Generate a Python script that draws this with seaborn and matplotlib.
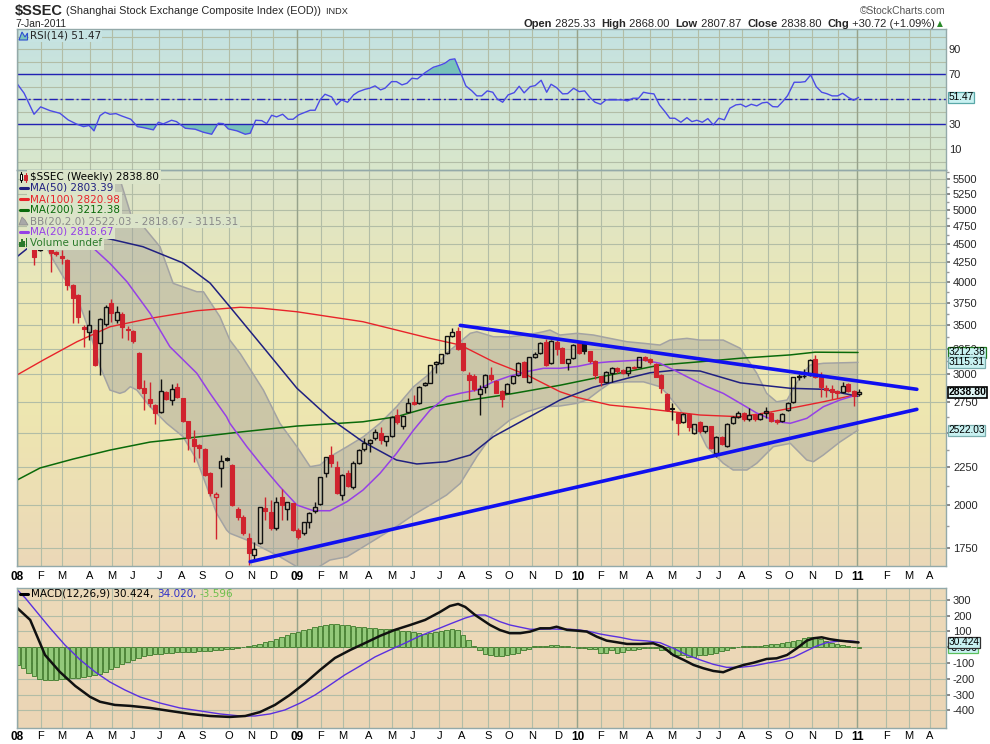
import numpy as np
import matplotlib
matplotlib.use("Agg")
import matplotlib.pyplot as plt
import seaborn as sns
from matplotlib.colors import LinearSegmentedColormap
from matplotlib.lines import Line2D
from matplotlib.patches import Rectangle, Polygon
from matplotlib.ticker import FixedLocator, NullFormatter

# ---------------- weekly candles (bar number, OHLC) ----------------
bar_index = list(range(4, 155))
opens = [4461, 4421, 4540, 4497, 4390, 4340, 4280, 3960, 3840, 3480,
         3419, 3440, 3304, 3509, 3742, 3553, 3620, 3460, 3431, 3209,
         2874, 2777, 2728, 2672, 2841, 2771, 2882, 2786, 2598, 2455,
         2410, 2378, 2210, 2048, 2241, 2312, 2265, 1973, 1925, 1804,
         1712, 1779, 1980, 1959, 1860, 2052, 1973, 2010, 1851, 1834,
         1895, 1965, 2006, 2207, 2336, 2253, 2063, 2211, 2117, 2281,
         2378, 2423, 2465, 2500, 2443, 2480, 2645, 2556, 2667, 2755,
         2743, 2901, 2926, 3099, 3105, 3204, 3380, 3431, 3304, 2995,
         2985, 2821, 2882, 2995, 2942, 2852, 2835, 2923, 2995, 3121,
         2932, 3164, 3209, 3321, 3111, 3321, 3260, 3105, 3154, 3304,
         3304, 3222, 3130, 2985, 2932, 3016, 3058, 3042, 3016, 3075,
         3075, 3170, 3150, 3099, 2995, 2821, 2705, 2664, 2591, 2655,
         2505, 2591, 2515, 2556, 2353, 2472, 2400, 2578, 2631, 2660,
         2610, 2645, 2615, 2665, 2664, 2604, 2598, 2686, 2751, 2975,
         2985, 2995, 3145, 2974, 2874, 2870, 2852, 2841, 2912, 2852,
         2825.33]
highs = [4480, 4600, 4580, 4510, 4400, 4415, 4290, 3970, 3850, 3500,
         3664, 3460, 3570, 3720, 3788, 3715, 3640, 3490, 3440, 3215,
         2948, 2932, 2740, 2955, 2850, 2912, 2923, 2790, 2600, 2524,
         2420, 2385, 2215, 2080, 2336, 2320, 2270, 1990, 1940, 1832,
         1784, 1990, 2052, 2031, 2050, 2102, 2020, 2015, 1860, 1900,
         1955, 2020, 2185, 2325, 2402, 2290, 2200, 2230, 2290, 2380,
         2460, 2455, 2530, 2550, 2480, 2640, 2692, 2645, 2791, 2815,
         2890, 2935, 3090, 3130, 3200, 3385, 3462, 3478, 3310, 3026,
         3000, 2901, 3000, 3067, 2950, 2860, 2920, 2990, 3120, 3125,
         3170, 3215, 3320, 3350, 3340, 3335, 3270, 3150, 3295, 3320,
         3330, 3230, 3140, 2990, 3030, 3075, 3070, 3050, 3075, 3080,
         3170, 3181, 3160, 3105, 3000, 2830, 2743, 2670, 2660, 2665,
         2575, 2600, 2560, 2560, 2475, 2480, 2580, 2640, 2680, 2670,
         2700, 2650, 2660, 2710, 2670, 2610, 2660, 2750, 2980, 3000,
         3050, 3145, 3186, 3026, 2900, 2900, 2860, 2930, 2920, 2860,
         2868.00]
lows = [4214, 4400, 4450, 4127, 4330, 4230, 3900, 3516, 3516, 3270,
        3338, 3080, 2995, 3490, 3534, 3516, 3356, 3338, 3311, 2870,
        2686, 2714, 2572, 2660, 2770, 2728, 2790, 2590, 2372, 2288,
        2314, 2190, 2060, 1798, 2117, 2290, 1995, 1910, 1820, 1660,
        1686, 1770, 1909, 1851, 1851, 1909, 1909, 1845, 1800, 1820,
        1860, 1949, 2000, 2180, 2250, 2070, 2031, 2115, 2100, 2270,
        2368, 2360, 2450, 2420, 2400, 2470, 2572, 2534, 2660, 2728,
        2735, 2890, 2920, 3015, 3100, 3195, 3370, 3240, 3030, 2771,
        2850, 2645, 2830, 2940, 2830, 2710, 2830, 2915, 2990, 2975,
        2925, 3160, 3200, 3080, 3100, 3190, 3105, 3042, 3150, 3200,
        3200, 3110, 2960, 2890, 2925, 2935, 3010, 3000, 2985, 3050,
        3070, 3130, 3100, 2975, 2829, 2680, 2604, 2486, 2580, 2520,
        2490, 2500, 2505, 2380, 2320, 2410, 2395, 2570, 2620, 2600,
        2600, 2600, 2605, 2620, 2590, 2575, 2590, 2680, 2745, 2950,
        2965, 2990, 2970, 2800, 2800, 2780, 2790, 2835, 2840, 2719,
        2807.87]
closes = [4324, 4560, 4497, 4370, 4355, 4305, 3960, 3800, 3582, 3452,
          3498, 3089, 3560, 3696, 3627, 3640, 3473, 3440, 3328, 2874,
          2829, 2748, 2664, 2852, 2777, 2865, 2800, 2598, 2460, 2405,
          2390, 2195, 2074, 2068, 2291, 2300, 2000, 1925, 1832, 1721,
          1743, 1986, 1965, 1860, 2021, 2000, 2017, 1851, 1813, 1899,
          1949, 1986, 2180, 2319, 2276, 2074, 2195, 2122, 2281, 2372,
          2423, 2447, 2507, 2450, 2475, 2631, 2591, 2637, 2748, 2737,
          2882, 2923, 3086, 3121, 3196, 3380, 3419, 3244, 3042, 2948,
          2865, 2865, 2995, 2955, 2835, 2777, 2912, 2985, 3111, 2980,
          3164, 3196, 3311, 3089, 3328, 3247, 3111, 3143, 3287, 3204,
          3222, 3130, 2995, 2932, 3024, 3058, 3030, 3010, 3067, 3060,
          3164, 3138, 3121, 2980, 2874, 2686, 2697, 2582, 2655, 2550,
          2570, 2515, 2556, 2385, 2468, 2418, 2572, 2631, 2660, 2610,
          2645, 2615, 2650, 2680, 2598, 2590, 2655, 2743, 2974, 2985,
          2990, 3138, 2979, 2882, 2858, 2841, 2835, 2891, 2852, 2808,
          2838.80]

# ---------------- overlays (bar position, value) ----------------
ma50_x = [0.9, 5.1, 14.7, 23.8, 31.1, 36.0, 39.6, 45.6, 51.8, 57.8, 63.8, 69.9, 73.6, 79.0,
          83.3, 87.5, 93.6, 99.6, 105.6, 111.8, 116.0, 120.9, 125.1, 132.4, 141.5, 147.5, 153.8]
ma50_v = [4324, 4579, 4626, 4461, 4241, 3985, 3702, 3270, 2874, 2618, 2434, 2300, 2272, 2288,
          2336, 2473, 2618, 2771, 2882, 2964, 3016, 3042, 3032, 2923, 2874, 2865, 2803]
ma100_x = [0.9, 5.7, 11.8, 17.8, 25.1, 33.6, 41.5, 45.6, 51.8, 57.8, 63.8, 69.9, 76.0, 81.5,
           87.5, 93.6, 99.6, 102.7, 108.7, 114.7, 125.1, 132.4, 137.2, 141.5, 147.5, 153.8]
ma100_v = [2995, 3138, 3321, 3479, 3571, 3657, 3696, 3684, 3645, 3589, 3534, 3444, 3356, 3287,
           3121, 2995, 2844, 2794, 2728, 2701, 2645, 2631, 2664, 2701, 2756, 2821]
ma200_x = [0.9, 5.1, 11.1, 17.8, 25.1, 33.6, 41.5, 51.8, 63.8, 69.9, 76.0, 83.3, 90.5, 99.6,
           108.7, 117.8, 125.1, 132.4, 141.5, 146.0, 153.8]
ma200_v = [2161, 2244, 2307, 2372, 2432, 2470, 2509, 2556, 2590, 2631, 2711, 2771, 2823, 2901,
           2995, 3089, 3121, 3155, 3188, 3215, 3212]
ma20_x = [14.5, 17.8, 20.9, 25.1, 28.7, 33.6, 36.0, 39.0, 39.6, 42.7, 45.6, 48.7, 51.8, 54.8,
          57.8, 60.9, 63.8, 66.9, 69.9, 73.0, 76.0, 79.0, 81.5, 84.5, 87.5, 90.5, 93.6, 96.6,
          99.6, 102.7, 105.6, 108.7, 111.8, 114.7, 117.8, 120.9, 123.3, 126.3, 129.3, 132.4,
          135.4, 139.0, 141.5, 144.5, 147.5, 150.5, 153.8]
ma20_v = [4461, 4236, 4001, 3627, 3270, 3011, 2829, 2631, 2578, 2397, 2253, 2117, 2000, 1965,
          1965, 2021, 2095, 2207, 2348, 2524, 2686, 2800, 2830, 2858, 2932, 2985, 3027, 3058,
          3058, 3075, 3106, 3121, 3130, 3138, 3106, 3027, 2964, 2890, 2829, 2743,
          2661, 2591, 2578, 2618, 2714, 2771, 2819]
bb_up_x = [14.5, 19.3, 21.8, 23.9, 26.9, 29.3, 33.6, 34.8, 37.8, 39.6, 41.5, 45.7, 48.7, 51.8,
           54.2, 56.0, 57.8, 60.9, 63.9, 66.9, 69.9, 73.0, 76.0, 79.0, 83.3, 84.5, 87.5, 90.5,
           93.6, 96.6, 97.8, 99.6, 102.7, 105.7, 108.7, 111.8, 114.8, 117.8, 119.6, 122.7,
           125.1, 129.3, 132.4, 135.4, 137.2, 139.0, 140.9, 143.3, 145.1, 147.5, 153.8]
bb_up_v = [6000, 5600, 4877, 4747, 4461, 3981, 3879, 3879, 3589, 3338, 3200, 2858, 2578, 2397,
           2253, 2265, 2324, 2397, 2473, 2578, 2714, 2888, 3011, 3204, 3409, 3426, 3373, 3373,
           3391, 3426, 3444, 3391, 3409, 3391, 3356, 3321, 3305, 3287, 3338, 3356,
           3338, 3338, 3254, 3011, 2829, 2756, 2771, 2979, 3089, 3106, 3115]
bb_lo_x = [5.1, 7.5, 9.3, 11.8, 14.2, 16.0, 17.8, 19.6, 20.5, 21.5, 22.7, 25.1, 28.1, 31.1,
           33.6, 35.4, 37.2, 39.0, 39.6, 42.7, 45.7, 48.7, 51.8, 54.8, 57.8, 60.9, 63.9, 66.9,
           69.9, 73.0, 76.0, 79.0, 81.5, 84.5, 87.5, 90.5, 93.6, 96.6, 99.6, 102.7, 104.5,
           105.7, 106.9, 108.7, 111.8, 114.8, 117.8, 119.0, 121.5, 123.3, 125.1, 126.3, 129.3,
           131.1, 133.6, 135.4, 138.4, 141.5, 144.5, 145.7, 147.5, 150.5, 153.8]
bb_lo_v = [4626, 4280, 4064, 3819, 3409, 3075, 2858, 2829, 2844, 2888, 2858, 2714, 2578, 2473,
           2300, 2117, 1949, 1851, 1832, 1794, 1748, 1703, 1651, 1634, 1686, 1703, 1757, 1813,
           1871, 1940, 2000, 2063, 2139, 2324, 2499, 2604, 2672, 2714, 2720, 2743, 2771,
           2814, 2858, 2919, 2932, 2932, 2888, 2829, 2686, 2551, 2499, 2397, 2277,
           2230, 2230, 2277, 2397, 2422, 2300, 2288, 2336, 2432, 2524]
upper_trend_x = [81.5, 164.5]
upper_trend_v = [3494, 2865]
lower_trend_x = [43.3, 164.5]
lower_trend_v = [1677, 2692]

# ---------------- RSI(14) ----------------
rsi_x = [1.0, 2.2, 4.0, 5.2, 6.9, 8.7, 10.2, 11.8, 13.0, 14.0, 14.9, 16.0, 16.9, 17.8, 18.9, 19.9,
         21.6, 22.8, 23.9, 25.7, 26.6, 27.5, 29.0, 29.9, 31.5, 33.3, 34.8, 36.3, 37.5, 38.4, 39.3,
         40.9, 42.4, 43.3, 44.3, 45.4, 46.3, 47.2, 48.1, 49.2, 50.2, 51.1, 52.1, 53.3, 54.2, 55.1,
         56.0, 56.9, 58.1, 59.0, 59.9, 61.0, 62.1, 63.0, 64.2, 65.0, 66.0, 67.0, 67.8, 69.0, 69.9,
         70.9, 71.8, 72.7, 73.7, 75.1, 76.6, 77.8, 78.7, 79.6, 80.5, 81.6, 82.5, 83.6, 84.5, 85.4,
         86.4, 87.4, 88.2, 89.2, 90.2, 91.3, 92.2, 93.1, 94.2, 95.1, 96.2, 97.2, 98.0, 99.0, 100.1,
         101.0, 102.1, 103.1, 104.1, 105.1, 106.0, 107.0, 108.0, 109.0, 110.1, 111.0, 111.9, 112.9,
         113.9, 114.8, 115.7, 116.7, 117.7, 118.7, 119.6, 120.5, 121.6, 122.7, 123.6, 124.5, 125.5,
         126.5, 127.5, 128.5, 129.5, 130.5, 131.6, 132.5, 133.4, 134.4, 135.4, 136.4, 137.3, 138.3,
         139.2, 140.1, 141.0, 142.2, 143.3, 144.2, 145.2, 146.2, 147.2, 148.1, 149.1, 150.1, 151.0,
         152.1, 153.0, 153.9]
rsi_v = [62, 54.8, 38, 43.9, 40.9, 38.8, 33.5, 30, 28.1, 29, 24.7, 36.9, 39.6, 38, 38.5, 36.7,
         34, 28.1, 27.3, 25.5, 31.6, 30.3, 33.2, 32.1, 26.8, 26, 23.6, 22, 30.8, 30.5, 26.3,
         24.7, 22, 22.8, 33.2, 32.9, 30.5, 37.2, 35.9, 38, 34, 34, 37.5, 39.6, 41.2, 41.2,
         49.5, 54, 51.9, 45.5, 49.5, 47.6, 53.5, 56.1, 58, 58.8, 60.7, 57.5, 58.8, 64.1, 64.1,
         61.5, 62.8, 66.8, 66.3, 71.3, 75.6, 77.2, 78.8, 81.7, 82.3, 70.8, 60.7, 56.7, 52.7, 52.7,
         56.7, 55.6, 50.3, 47.6, 53.5, 55.3, 60.4, 55.1, 60.1, 60.9, 65.2, 55.6, 62, 59.3, 54.3,
         54.5, 58.8, 56.1, 56.7, 51.3, 47.6, 46, 49.5, 49.5, 49.5, 49.5, 48.7, 50.8,
         50.8, 55.6, 54.8, 54.3, 45.5, 40.1, 34.8, 34.8, 31.6, 35.3, 32.1, 33.2, 31.6, 34.5,
         29.5, 34.8, 33.5, 42.8, 45.5, 46, 43.9, 46, 44.7, 47.1, 47.6, 44.1, 43.9,
         48.1, 52.9, 63.6, 63.6, 64.1, 69.5, 60.1, 55.6, 54.5, 52.7, 52.7, 54.8,
         51.3, 49.2, 51.47]

# ---------------- MACD(12,26,9) ----------------
macd_x = [0.9, 3.3, 6.0, 8.7, 11.5, 14.2, 16.0, 18.7, 21.5, 25.1, 28.7, 32.4, 36.0, 39.6, 42.4,
          45.1, 47.8, 50.5, 53.3, 56.0, 58.7, 61.5, 64.2, 66.9, 69.6, 72.4, 75.1, 77.8, 79.6, 81.1,
          82.4, 84.2, 86.9, 88.7, 90.5, 92.4, 94.2, 96.0, 97.8, 99.0, 100.9, 102.7, 104.5, 106.3,
          108.1, 109.9, 111.8, 114.2, 116.6, 118.4, 120.2, 122.1, 123.9, 125.7, 127.5, 129.3,
          131.1, 133.0, 134.8, 137.2, 139.0, 140.9, 142.7, 144.5, 145.7, 147.2, 148.7, 150.5,
          152.4, 153.9]
macd_v = [250, 173, -49, -156, -245, -314, -345, -365, -371, -384, -403, -422, -435, -441, -435,
          -410, -365, -302, -226, -144, -68, -17, 27, 72, 110, 141, 173, 223, 261, 274,
          255, 204, 141, 109, 89, 89, 99, 120, 120, 130, 110, 105, 99, 67,
          42, 32, 21, 21, 25, 0, -49, -80, -112, -133, -150, -158,
          -133, -112, -98, -74, -70, -49, -6, 42, 57, 63, 51, 42, 35, 30.424]
signal_x = [0.9, 2.4, 4.2, 6.9, 9.6, 12.4, 15.1, 17.8, 20.5, 23.3, 26.9, 30.5, 34.2, 37.8, 41.5,
            44.2, 46.9, 49.6, 52.4, 55.1, 57.8, 60.5, 63.3, 66.0, 68.7, 71.5, 74.2, 76.9, 79.6,
            82.4, 84.2, 86.0, 88.7, 90.5, 92.4, 94.2, 96.0, 97.8, 99.6, 101.5, 103.3, 105.1,
            106.9, 108.7, 110.5, 112.9, 115.4, 117.8, 120.2, 122.7, 125.1, 127.5, 129.9, 132.4,
            134.8, 137.2, 139.6, 142.1, 144.5, 146.3, 148.1, 150.5, 152.4, 153.9]
signal_v = [365, 312, 236, 122, 15, -80, -156, -220, -270, -315, -353, -384, -403, -422, -435,
            -435, -422, -397, -353, -302, -239, -175, -118, -61, -17, 27, 72, 109, 147,
            185, 204, 204, 162, 141, 127, 114, 114, 116, 114, 114, 109, 99,
            84, 73, 63, 46, 40, 29, -6, -49, -80, -108, -127, -127,
            -118, -101, -85, -63, -22, 8, 29, 40, 40, 34.020]
hist_x = list(range(1, 155))
hist_v = [-110, -130, -160, -185, -200, -209, -210, -207, -203, -200,
          -196, -192, -188, -184, -176, -168, -155, -140, -125, -108,
          -92, -80, -68, -58, -51, -45, -40, -36, -34, -32,
          -30, -29, -27, -25, -24, -23, -20, -17, -14, -10,
          -6, -1, 6, 14, 21, 31, 41, 55, 67, 78,
          88, 99, 110, 118, 128, 137, 143, 148, 149, 143,
          138, 133, 129, 126, 123, 120, 117, 115, 113, 110,
          106, 100, 96, 91, 86, 92, 98, 103, 112, 114,
          108, 80, 45, 5, -20, -40, -50, -53,
          -55, -50, -42, -35, -17, -8, 5, 8, 10, 12,
          12, 8, 5, 0, -3, -5, -8, -12, -38, -38,
          -20, -38, -30, -20, -20, -8, -5, -5, -5, -15,
          -15, -40, -48, -50, -59, -59, -52, -48, -45, -38,
          -25, -18, -5, 0, 8, 10, 10, 10, 12, 18,
          22, 25, 35, 40, 48, 60, 62, 62, 50, 40,
          25, 20, 15, 10, 2, -3.596]

# ---------------- axis labels ----------------
month_pos = [0.96, 5.2, 9.1, 14.1, 18.1, 21.9, 26.8, 30.9, 34.6, 39.4, 43.5, 47.4,
             51.9, 56.1, 60.1, 64.9, 69.0, 72.8, 77.7, 81.8, 86.6, 90.4, 94.5, 99.3,
             102.8, 107.0, 111.0, 116.0, 119.9, 124.8, 128.5, 132.7, 137.5, 141.3, 145.4, 150.2,
             153.7, 158.9, 163.0, 166.9]
month_lab = ["08", "F", "M", "A", "M", "J", "J", "A", "S", "O", "N", "D",
             "09", "F", "M", "A", "M", "J", "J", "A", "S", "O", "N", "D",
             "10", "F", "M", "A", "M", "J", "J", "A", "S", "O", "N", "D",
             "11", "F", "M", "A"]
year_lab = ["08", "09", "10", "11"]
price_ticks = [1750, 2000, 2250, 2500, 2750, 3000, 3250, 3500, 3750, 4000, 4250, 4500, 4750,
               5000, 5250, 5500]
rsi_ticks = [10, 30, 70, 90]
macd_ticks = [-400, -300, -200, -100, 100, 200, 300]

# ---------------- figure ----------------
sns.set_theme(style="white")
plt.rcParams["font.family"] = ["Liberation Sans", "DejaVu Sans"]
LEG = ["DejaVu Sans"]

W, H = 990, 744
fig = plt.figure(figsize=(W / 100, H / 100), dpi=100)
fig.patch.set_facecolor("white")
GRID = "#b2bda6"
X_LEFT, X_RIGHT = 0.85, 169.8


def rect(l, t, r, b):
    return [l / W, 1 - b / H, (r - l) / W, (b - t) / H]


def panel(l, t, r, b, stops):
    bg = fig.add_axes(rect(l, t, r, b), zorder=0)
    cmap = LinearSegmentedColormap.from_list("bg", stops)
    bg.imshow(np.linspace(0, 1, 256).reshape(-1, 1), aspect="auto", cmap=cmap,
              extent=[0, 1, 0, 1], origin="upper")
    bg.set_axis_off()
    ax = fig.add_axes(rect(l, t, r, b), zorder=1)
    ax.patch.set_alpha(0)
    for sp in ax.spines.values():
        sp.set_color("#93a9a9")
        sp.set_linewidth(1)
    ax.set_axisbelow(True)
    return ax


ax_r = panel(16.7, 29, 946, 170, [(0, "#c4e2e2"), (1, "#d9e7cb")])
ax_p = panel(16.7, 170, 946, 566, [(0, "#dae3ca"), (0.33, "#ece8b6"), (0.62, "#eee6b0"), (1, "#ebd8b8")])
ax_m = panel(16.7, 588, 946, 728, [(0, "#eddab9"), (1, "#ebd5b5")])


def setup_x(ax, labels, pad=3.3):
    ax.set_xlim(X_LEFT, X_RIGHT)
    ax.set_xticks(month_pos)
    ax.set_xticklabels(month_lab)
    ax.tick_params(axis="x", which="major", length=0, pad=pad, labelsize=8, labelbottom=labels,
                   colors="black")
    ax.set_xticks(np.arange(1, 170), minor=True)
    ax.tick_params(axis="x", which="minor", length=2 if labels else 0, color="#a8a8a8", width=0.7)
    ax.grid(True, axis="x", which="major", color=GRID, lw=0.8)
    for p, lab in zip(month_pos, month_lab):
        if lab in year_lab:
            ax.axvline(p, color="#97a38b", lw=1.0, zorder=0.6)
    for t in ax.get_xticklabels():
        if t.get_text() in year_lab:
            t.set_fontweight("bold")
            t.set_fontsize(8.5)


def setup_y(ax):
    ax.yaxis.tick_right()
    ax.tick_params(axis="y", which="major", length=3, color="#7a7a7a", labelsize=8, pad=2,
                   right=True, left=False)
    ax.grid(True, axis="y", which="major", color=GRID, lw=0.8)


# ---------- price panel ----------
ax_p.set_yscale("log")
setup_x(ax_p, True)
setup_y(ax_p)
ax_p.set_yticks(price_ticks)
ax_p.set_yticklabels([str(v) for v in price_ticks])
ax_p.yaxis.set_minor_locator(FixedLocator([v + 125 for v in price_ticks]))
ax_p.yaxis.set_minor_formatter(NullFormatter())
ax_p.tick_params(axis="y", which="minor", length=2, color="#9a9a9a", right=True, left=False)

# Bollinger band
poly_x = list(bb_up_x) + list(bb_lo_x[::-1])
poly_y = list(bb_up_v) + list(bb_lo_v[::-1])
ax_p.fill(poly_x, poly_y, color="#9c9c9c", alpha=0.42, lw=0, zorder=1)
sns.lineplot(x=bb_up_x, y=bb_up_v, ax=ax_p, color="#a3a3a3", lw=1.1, sort=False, estimator=None, zorder=1.2)
sns.lineplot(x=bb_lo_x, y=bb_lo_v, ax=ax_p, color="#a3a3a3", lw=1.1, sort=False, estimator=None, zorder=1.2)

# moving averages
sns.lineplot(x=ma200_x, y=ma200_v, ax=ax_p, color="#0a6a0a", lw=1.1, sort=False, estimator=None, zorder=2)
sns.lineplot(x=ma100_x, y=ma100_v, ax=ax_p, color="#e8232a", lw=1.0, sort=False, estimator=None, zorder=2)
sns.lineplot(x=ma50_x, y=ma50_v, ax=ax_p, color="#202080", lw=1.1, sort=False, estimator=None, zorder=2)
sns.lineplot(x=ma20_x, y=ma20_v, ax=ax_p, color="#9640e6", lw=1.1, sort=False, estimator=None, zorder=2)

# candles
b = np.array(bar_index, dtype=float)
o = np.array(opens, dtype=float)
h = np.array(highs, dtype=float)
l = np.array(lows, dtype=float)
c = np.array(closes, dtype=float)
prev = np.r_[o[0], c[:-1]]
RED, BLK = "#d0232e", "#111111"
col = np.where(c < prev, RED, BLK)
top = np.maximum(o, c)
bot = np.minimum(o, c)
ax_p.vlines(b, top, h, colors=col, lw=1.0, zorder=3)
ax_p.vlines(b, l, bot, colors=col, lw=1.0, zorder=3)
filled = c < o
ax_p.bar(b[filled], (top - bot)[filled], bottom=bot[filled], width=0.72,
         color=col[filled], edgecolor=col[filled], lw=0.8, zorder=3.2)
ax_p.bar(b[~filled], (top - bot)[~filled], bottom=bot[~filled], width=0.72,
         facecolor="none", edgecolor=col[~filled], lw=1.0, zorder=3.2)

# trend lines
sns.lineplot(x=upper_trend_x, y=upper_trend_v, ax=ax_p, color="#1010f0", lw=2.6, sort=False, estimator=None, zorder=4)
sns.lineplot(x=lower_trend_x, y=lower_trend_v, ax=ax_p, color="#1010f0", lw=2.6, sort=False, estimator=None, zorder=4)
ax_p.set_ylim(1655, 5661)
ax_p.set_xlim(X_LEFT, X_RIGHT)
ax_p.set_xlabel("")
ax_p.set_ylabel("")

# ---------- RSI panel ----------
setup_x(ax_r, False)
setup_y(ax_r)
ax_r.set_yticks(list(range(0, 101, 10)))
ax_r.set_yticklabels([str(v) if v in rsi_ticks else "" for v in range(0, 101, 10)])
ax_r.tick_params(axis="y", length=0)
rx = np.array(rsi_x)
rv = np.array(rsi_v)
ax_r.fill_between(rx, rv, 70, where=rv > 70, interpolate=True, color="#78c2ba", lw=0, zorder=1.5)
ax_r.fill_between(rx, rv, 30, where=rv < 30, interpolate=True, color="#78c2ba", lw=0, zorder=1.5)
ax_r.axhline(70, color="#2222b4", lw=1.0, zorder=1.8)
ax_r.axhline(30, color="#2222b4", lw=1.0, zorder=1.8)
ax_r.axhline(50, color="#2222b4", lw=1.0, ls=(0, (6, 2, 1.5, 2)), zorder=1.8)
sns.lineplot(x=rsi_x, y=rsi_v, ax=ax_r, color="#4b4be6", lw=1.0, sort=False, estimator=None, zorder=2)
ax_r.set_ylim(-6.6, 106.2)
ax_r.set_xlim(X_LEFT, X_RIGHT)
ax_r.set_xlabel("")
ax_r.set_ylabel("")

# ---------- MACD panel ----------
setup_x(ax_m, True, pad=2.5)
setup_y(ax_m)
ax_m.set_yticks(list(range(-400, 301, 100)))
ax_m.set_yticklabels([str(v) if v in macd_ticks else "" for v in range(-400, 301, 100)])
ax_m.bar(hist_x, hist_v, width=0.8, color="#93c97a", edgecolor="#3c7a2a", lw=0.6, zorder=1.5)
sns.lineplot(x=signal_x, y=signal_v, ax=ax_m, color="#5a30e0", lw=1.0, sort=False, estimator=None, zorder=2)
sns.lineplot(x=macd_x, y=macd_v, ax=ax_m, color="#111111", lw=1.8, sort=False, estimator=None, zorder=2.2)
ax_m.set_ylim(-511, 375)
ax_m.set_xlim(X_LEFT, X_RIGHT)
ax_m.set_xlabel("")
ax_m.set_ylabel("")


# ---------- value tags on right axis ----------
def tag(ax, y, s, edge, face="#c8f1f1", weight="normal", lw=0.9, size=7.3):
    ax.text(1.0025, y, s, transform=ax.get_yaxis_transform(), ha="left", va="center",
            fontsize=size, fontweight=weight, color="black", zorder=20, clip_on=False,
            bbox=dict(boxstyle="square,pad=0.05", fc=face, ec=edge, lw=lw))


tag(ax_p, 3212.38, "3212.38", "#1e7a1e")
tag(ax_p, 3115.31, "3115.31", "#7aaeae")
tag(ax_p, 2838.80, "2838.80", "black", face="#dff6f6", weight="bold", lw=1.2, size=7.6)
tag(ax_p, 2522.03, "2522.03", "#7aaeae")
tag(ax_r, 51.47, "51.47", "#5aa8a8")
tag(ax_m, -3.596, "-3.596", "#5cc05c")
tag(ax_m, 30.424, "30.424", "#303030")

# ---------- texts ----------
renderer = fig.canvas.get_renderer()


def seq(x_px, y_px, pieces, align="left"):
    ts = [fig.text(0, 1 - y_px / H, s, va="center", ha="left", **kw) for s, kw in pieces]
    ws = [t.get_window_extent(renderer=renderer).width for t in ts]
    x = x_px if align == "left" else x_px - sum(ws)
    for t, w in zip(ts, ws):
        t.set_x(x / W)
        x += w


seq(15, 11, [("$SSEC", dict(fontsize=10.5, fontweight="bold")),
             (" (Shanghai Stock Exchange Composite Index (EOD))", dict(fontsize=7.8)),
             ("  INDX", dict(fontsize=6.6))])
fig.text(15 / W, 1 - 24 / H, "7-Jan-2011", fontsize=7.4, va="center", ha="left")
fig.text(946 / W, 1 - 11 / H, "\u00a9StockCharts.com", fontsize=7.4, color="#555555",
         va="center", ha="right")
B = dict(fontsize=8, fontweight="bold")
N = dict(fontsize=8)
seq(935, 24, [("Open", B), (" 2825.33  ", N), ("High", B), (" 2868.00  ", N), ("Low", B),
              (" 2807.87  ", N), ("Close", B), (" 2838.80  ", N), ("Chg", B),
              (" +30.72 (+1.09%)", N)], align="right")
fig.text(936.5 / W, 1 - 24 / H, "\u25b2", fontsize=5.5, color="#2a8a2a", va="center", ha="left",
         family=LEG)

# RSI legend
fig.text(30 / W, 1 - 36 / H, "RSI(14) 51.47", fontsize=7.5, family=LEG, va="center", ha="left",
         bbox=dict(boxstyle="square,pad=0.1", fc="#c6e3e2", ec="none"))
fig.add_artist(Polygon([[19 / W, 1 - 40 / H], [22 / W, 1 - 32 / H], [25 / W, 1 - 37 / H],
                        [27.5 / W, 1 - 33 / H], [27.5 / W, 1 - 40 / H]],
                       closed=True, fc="#7cc4bc", ec="#2f4fd0", lw=0.8, zorder=6))

# price legend
bgc = "#dbe4c9"
rows = [("$SSEC (Weekly) 2838.80", "black", None),
        ("MA(50) 2803.39", "#202080", "#202080"),
        ("MA(100) 2820.98", "#e8232a", "#e8232a"),
        ("MA(200) 3212.38", "#0a6a0a", "#0a6a0a"),
        ("BB(20,2.0) 2522.03 - 2818.67 - 3115.31", "#8a8a8a", None),
        ("MA(20) 2818.67", "#9640e6", "#9640e6"),
        ("Volume undef", "#2a7a2a", None)]
for i, (txt, tc, dash) in enumerate(rows):
    yy = 177 + i * 11
    fig.text(29.5 / W, 1 - yy / H, txt, fontsize=7.5, family=LEG, color=tc, va="center", ha="left",
             zorder=5, bbox=dict(boxstyle="square,pad=0.22", fc=bgc, ec="none"))
    if dash:
        fig.add_artist(Line2D([19.5 / W, 27.5 / W], [1 - yy / H, 1 - yy / H], color=dash, lw=2.2, zorder=6))
# small icons: candle, band, volume bars
fig.add_artist(Line2D([21 / W, 21 / W], [1 - 172 / H, 1 - 182 / H], color="black", lw=0.8, zorder=6))
fig.add_artist(Rectangle((19.8 / W, 1 - 180 / H), 2.6 / W, 6 / H, fc="white", ec="black", lw=0.7, zorder=7))
fig.add_artist(Line2D([25.5 / W, 25.5 / W], [1 - 173 / H, 1 - 182 / H], color="#d0232e", lw=0.8, zorder=6))
fig.add_artist(Rectangle((24.2 / W, 1 - 180 / H), 2.6 / W, 5 / H, fc="#d0232e", ec="#d0232e", lw=0.7, zorder=7))
fig.add_artist(Polygon([[19 / W, 1 - 225 / H], [22 / W, 1 - 217 / H], [25 / W, 1 - 220 / H],
                        [28 / W, 1 - 225 / H]], closed=True, fc="#a8a8a8", ec="#909090", lw=0.6, zorder=6))
for k, hh in enumerate([5, 8, 6, 9]):
    fig.add_artist(Rectangle(((19 + 2.2 * k) / W, 1 - 247 / H), 1.7 / W, hh / H,
                             fc="#2a7a2a", ec="none", zorder=6))

# MACD legend
fig.add_artist(Line2D([20 / W, 27.5 / W], [1 - 594 / H, 1 - 594 / H], color="black", lw=2.2, zorder=6))
L = dict(fontsize=7.5, family=LEG)
seq(31.5, 594, [("MACD(12,26,9) 30.424", dict(L, color="black")), (", ", dict(L, color="black")),
                ("34.020", dict(L, color="#3030c8")), (", ", dict(L, color="#3030c8")),
                ("-3.596", dict(L, color="#6cbf4c"))])

fig.savefig("out.png", dpi=100, facecolor="white")
